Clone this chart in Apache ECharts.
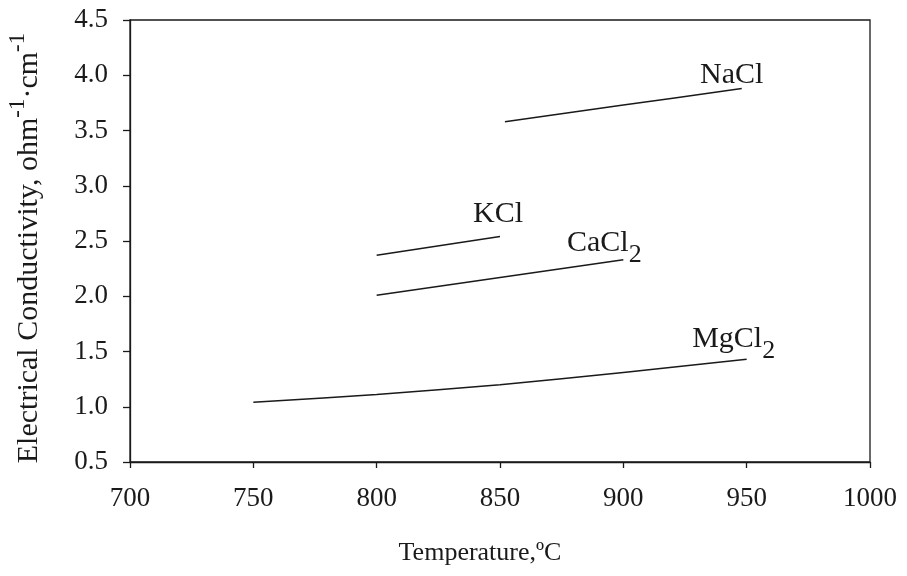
<!DOCTYPE html>
<html>
<head>
<meta charset="utf-8">
<script src="https://cdn.jsdelivr.net/npm/echarts@6/dist/echarts.min.js"></script>
<style>html,body{margin:0;padding:0;background:#fff;}#c{width:907px;height:576px;}</style>
</head>
<body>
<div id="c"></div>
<script>
// Data
const naclT = [852, 900, 948];
const naclK = [3.58, 3.73, 3.88];
const kclT = [800, 850];
const kclK = [2.37, 2.54];
const caclT = [800, 900];
const caclK = [2.01, 2.33];
const mgclT = [750, 800, 850, 900, 950];
const mgclK = [1.04, 1.11, 1.20, 1.31, 1.43];
const xTicks = [700, 750, 800, 850, 900, 950, 1000];
const yTicks = [0.5, 1.0, 1.5, 2.0, 2.5, 3.0, 3.5, 4.0, 4.5];

const FONT = 'Liberation Serif';
const INK = '#1a1a1a';

function pairs(t, k) { return t.map((v, i) => [v, k[i]]); }

function mkSeries(name, t, k, text, offset) {
  const last = t.length - 1;
  return {
    name: name,
    type: 'line',
    data: pairs(t, k),
    showSymbol: false,
    smooth: t.length > 2 ? 0.3 : false,
    lineStyle: { color: INK, width: 1.5 },
    silent: true,
    animation: false,
    markPoint: {
      symbol: 'circle',
      symbolSize: 1,
      itemStyle: { color: 'rgba(0,0,0,0)' },
      silent: true,
      data: [{ coord: [t[last], k[last]] }],
      label: {
        show: true,
        position: 'inside',
        offset: offset,
        formatter: text,
        color: INK,
        fontFamily: FONT,
        rich: {
          m: { fontFamily: FONT, fontSize: 30, color: INK, lineHeight: 30, verticalAlign: 'top' },
          s: { fontFamily: FONT, fontSize: 26, color: INK, lineHeight: 26, padding: [14, 0, 0, 0], verticalAlign: 'top' }
        }
      }
    }
  };
}

const chart = echarts.init(document.getElementById('c'), null, { renderer: 'canvas' });
chart.setOption({
  backgroundColor: '#ffffff',
  animation: false,
  grid: {
    left: 130, right: 37, top: 20, bottom: 114,
    outerBoundsMode: 'none',
    containLabel: false,
    show: true, borderColor: INK, borderWidth: 1.3, backgroundColor: 'transparent'
  },
  xAxis: {
    type: 'value',
    min: xTicks[0], max: xTicks[xTicks.length - 1], interval: 50,
    name: 'Temperature,ºC',
    nameLocation: 'middle',
    nameGap: 78,
    nameTextStyle: { fontFamily: FONT, fontSize: 26, color: INK, padding: [0, 40, 0, 0] },
    axisLine: { show: true, onZero: false, lineStyle: { color: INK, width: 1.3 } },
    axisTick: { show: true, inside: false, length: 6, lineStyle: { color: INK, width: 1.3 } },
    axisLabel: { fontFamily: FONT, fontSize: 27, color: INK, margin: 23, formatter: v => String(v) },
    splitLine: { show: false }
  },
  yAxis: {
    type: 'value',
    min: yTicks[0], max: yTicks[yTicks.length - 1], interval: 0.5,
    name: '{m|Electrical Conductivity, ohm}{s|-1}{m|·cm}{s|-1}',
    nameLocation: 'middle',
    nameGap: 86,
    nameTextStyle: {
      fontFamily: FONT, fontSize: 30, color: INK,
      padding: [0, 14, 0, 0],
      rich: {
        m: { fontFamily: FONT, fontSize: 30, color: INK, lineHeight: 38, verticalAlign: 'bottom' },
        s: { fontFamily: FONT, fontSize: 23, color: INK, lineHeight: 23, verticalAlign: 'top' }
      }
    },
    axisLine: { show: true, onZero: false, lineStyle: { color: INK, width: 1.3 } },
    axisTick: { show: true, inside: false, length: 7, lineStyle: { color: INK, width: 1.3 } },
    axisLabel: { fontFamily: FONT, fontSize: 27, color: INK, margin: 22, formatter: v => v.toFixed(1) },
    splitLine: { show: false }
  },
  series: [
    mkSeries('NaCl', naclT, naclK, '{m|NaCl}', [-10, -13]),
    mkSeries('KCl', kclT, kclK, '{m|KCl}', [-2, -22]),
    mkSeries('CaCl2', caclT, caclK, '{m|CaCl}{s|2}', [-19, -17]),
    mkSeries('MgCl2', mgclT, mgclK, '{m|MgCl}{s|2}', [-13, -20])
  ]
});
</script>
</body>
</html>
